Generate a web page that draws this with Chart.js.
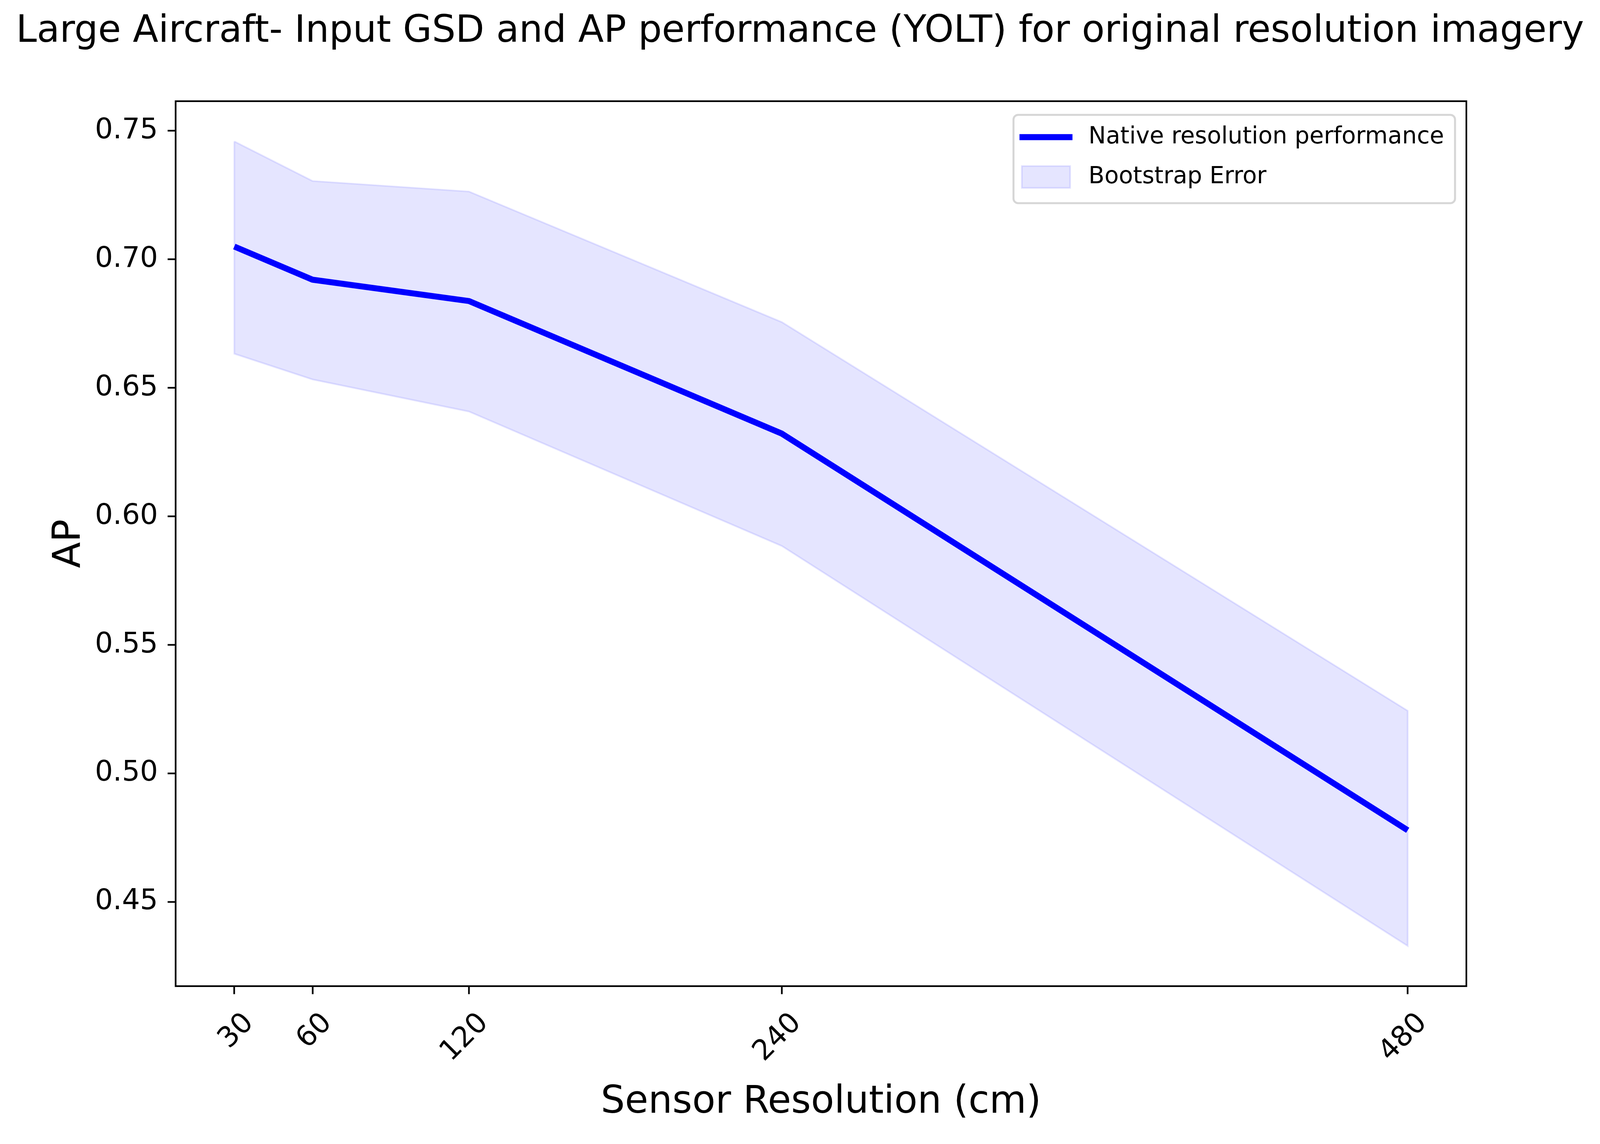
<!DOCTYPE html>
<html><head><meta charset="utf-8">
<script src="https://cdn.jsdelivr.net/npm/chart.js@4.4.1/dist/chart.umd.min.js"></script>
<style>html,body{margin:0;padding:0;background:#fff;overflow:hidden;} canvas{display:block;}</style>
</head><body>
<canvas id="c"></canvas>
<script>
// ---- data ----
const resolutions = [30, 60, 120, 240, 480];
const apNative = [0.7050, 0.6921, 0.6838, 0.6322, 0.4779];
const apUpper  = [0.7459, 0.7305, 0.7264, 0.6756, 0.5244];
const apLower  = [0.6633, 0.6533, 0.6408, 0.5885, 0.4329];
const xTickValues = [30, 60, 120, 240, 480];
const yTickValues = [0.45, 0.50, 0.55, 0.60, 0.65, 0.70, 0.75];
const titleText = 'Large Aircraft- Input GSD and AP performance (YOLT) for original resolution imagery';
const xLabel = 'Sensor Resolution (cm)';
const yLabel = 'AP';
const seriesLabel = 'Native resolution performance';
const bandLabel = 'Bootstrap Error';

// ---- sizing: fit the viewport, design units are the 4801x2928 reference ----
const W = window.innerWidth || document.documentElement.clientWidth || 4801;
const H = window.innerHeight || document.documentElement.clientHeight || 2928;
const sx = W / 4801, sy = H / 2928, s = Math.min(sx, sy);
const canvas = document.getElementById('c');
canvas.style.width = W + 'px';
canvas.style.height = H + 'px';
canvas.width = W;
canvas.height = H;

const FONT = '"DejaVu Sans", "Liberation Sans", sans-serif';
Chart.defaults.font.family = FONT;
Chart.defaults.color = '#000';

// autoscale with 5% margins (matplotlib-like)
const xMinD = Math.min(...resolutions), xMaxD = Math.max(...resolutions);
const yMinD = Math.min(...apLower), yMaxD = Math.max(...apUpper);
const xMargin = (xMaxD - xMinD) * 0.05, yMargin = (yMaxD - yMinD) * 0.05;

const linePoints = resolutions.map((x, i) => ({x, y: apNative[i]}));
const bandPoints = [
  ...resolutions.map((x, i) => ({x, y: apUpper[i]})),
  ...resolutions.map((x, i) => ({x, y: apLower[i]})).reverse(),
  {x: resolutions[0], y: apUpper[0]}
];

const spinePlugin = {
  id: 'spines',
  afterDatasetsDraw(chart) {
    const {ctx, chartArea: ca} = chart;
    ctx.save();
    ctx.strokeStyle = '#000';
    ctx.lineWidth = 5 * s;
    ctx.lineJoin = 'miter';
    ctx.strokeRect(ca.left, ca.top, ca.right - ca.left, ca.bottom - ca.top);
    ctx.restore();
  }
};

const legendPlugin = {
  id: 'mplLegend',
  afterDraw(chart) {
    const {ctx, chartArea: ca} = chart;
    const fs = 70 * s;
    ctx.save();
    ctx.font = fs + 'px ' + FONT;
    const tw = Math.max(ctx.measureText(seriesLabel).width, ctx.measureText(bandLabel).width);
    const right = ca.right - 34 * sx, top = ca.top + 35 * sy;
    const width = 225 * sx + tw + 33 * sx, height = 226 * sy;
    const left = right - width;
    const r = 14 * s;
    ctx.beginPath();
    ctx.moveTo(left + r, top);
    ctx.lineTo(right - r, top);
    ctx.arcTo(right, top, right, top + r, r);
    ctx.lineTo(right, top + height - r);
    ctx.arcTo(right, top + height, right - r, top + height, r);
    ctx.lineTo(left + r, top + height);
    ctx.arcTo(left, top + height, left, top + height - r, r);
    ctx.lineTo(left, top + r);
    ctx.arcTo(left, top, left + r, top, r);
    ctx.closePath();
    ctx.fillStyle = 'rgba(255,255,255,0.8)';
    ctx.fill();
    ctx.strokeStyle = '#d6d6d6';
    ctx.lineWidth = 6 * s;
    ctx.stroke();
    // line handle
    ctx.beginPath();
    ctx.strokeStyle = '#0000ff';
    ctx.lineWidth = 18 * s;
    ctx.lineCap = 'butt';
    ctx.moveTo(left + 18 * sx, top + 57 * sy);
    ctx.lineTo(left + 177 * sx, top + 57 * sy);
    ctx.stroke();
    // patch handle
    ctx.fillStyle = 'rgba(0,0,255,0.1)';
    ctx.fillRect(left + 25 * sx, top + 131 * sy, 145 * sx, 56 * sy);
    ctx.strokeStyle = 'rgba(0,0,255,0.1)';
    ctx.lineWidth = 5 * s;
    ctx.strokeRect(left + 25 * sx, top + 131 * sy, 145 * sx, 56 * sy);
    // text
    ctx.fillStyle = '#000';
    ctx.textAlign = 'left';
    ctx.textBaseline = 'middle';
    ctx.fillText(seriesLabel, left + 225 * sx, top + 57 * sy);
    ctx.fillText(bandLabel, left + 225 * sx, top + 159 * sy);
    ctx.restore();
  }
};

new Chart(canvas, {
  type: 'line',
  data: {
    datasets: [
      {
        label: seriesLabel,
        data: linePoints,
        borderColor: '#0000ff',
        borderWidth: 18 * s,
        borderCapStyle: 'butt',
        borderJoinStyle: 'round',
        pointRadius: 0,
        tension: 0,
        fill: false,
        order: 0
      },
      {
        label: bandLabel,
        data: bandPoints,
        borderColor: 'rgba(0,0,255,0.1)',
        backgroundColor: 'rgba(0,0,255,0.1)',
        borderWidth: 5 * s,
        pointRadius: 0,
        tension: 0,
        fill: 'shape',
        order: 1
      }
    ]
  },
  options: {
    responsive: false,
    animation: false,
    layout: { padding: 0 },
    plugins: {
      legend: { display: false },
      tooltip: { enabled: false },
      title: {
        display: true,
        text: titleText,
        color: '#000',
        font: { size: 112 * s, weight: 'normal', family: FONT, lineHeight: 1.2 },
        padding: { top: 25 * sy, bottom: (259 * sy) - 25 * sy - 112 * s * 1.2 }
      }
    },
    scales: {
      x: {
        type: 'linear',
        min: xMinD - xMargin,
        max: xMaxD + xMargin,
        afterBuildTicks: (scale) => { scale.ticks = xTickValues.map(v => ({value: v})); },
        afterFit: (scale) => { scale.height = 404 * sy; },
        border: { display: false },
        grid: { drawOnChartArea: false, drawTicks: true, tickLength: 24 * s, tickWidth: 5 * s, tickColor: '#000' },
        ticks: {
          color: '#000',
          font: { size: 85 * s, family: FONT },
          minRotation: 45,
          maxRotation: 45,
          padding: 32 * sy,
          labelOffset: 45 * sx,
          autoSkip: false,
          callback: (v) => String(v)
        },
        title: {
          display: true,
          text: xLabel,
          color: '#000',
          font: { size: 114 * s, family: FONT, lineHeight: 1.2 },
          padding: { top: 0, bottom: 47 * sy }
        }
      },
      y: {
        type: 'linear',
        position: 'left',
        min: yMinD - yMargin,
        max: yMaxD + yMargin,
        afterBuildTicks: (scale) => { scale.ticks = yTickValues.map(v => ({value: v})); },
        afterFit: (scale) => { scale.width = 527 * sx; },
        border: { display: false },
        grid: { drawOnChartArea: false, drawTicks: true, tickLength: 24 * s, tickWidth: 5 * s, tickColor: '#000' },
        ticks: {
          color: '#000',
          font: { size: 85 * s, family: FONT },
          padding: 29 * sx,
          autoSkip: false,
          callback: (v) => Number(v).toFixed(2)
        },
        title: {
          display: true,
          text: yLabel,
          color: '#000',
          font: { size: 114 * s, family: FONT, lineHeight: 1.2 },
          padding: { top: 141 * sx, bottom: 0 }
        }
      },
      // empty right-hand margin (keeps the plot area where the reference has it)
      yRight: {
        type: 'linear',
        position: 'right',
        display: true,
        min: 0,
        max: 1,
        afterFit: (scale) => { scale.width = 401 * sx; },
        border: { display: false },
        grid: { display: false, drawOnChartArea: false, drawTicks: false },
        ticks: { display: false },
        title: { display: false }
      }
    }
  },
  plugins: [spinePlugin, legendPlugin]
});
</script>
</body></html>
